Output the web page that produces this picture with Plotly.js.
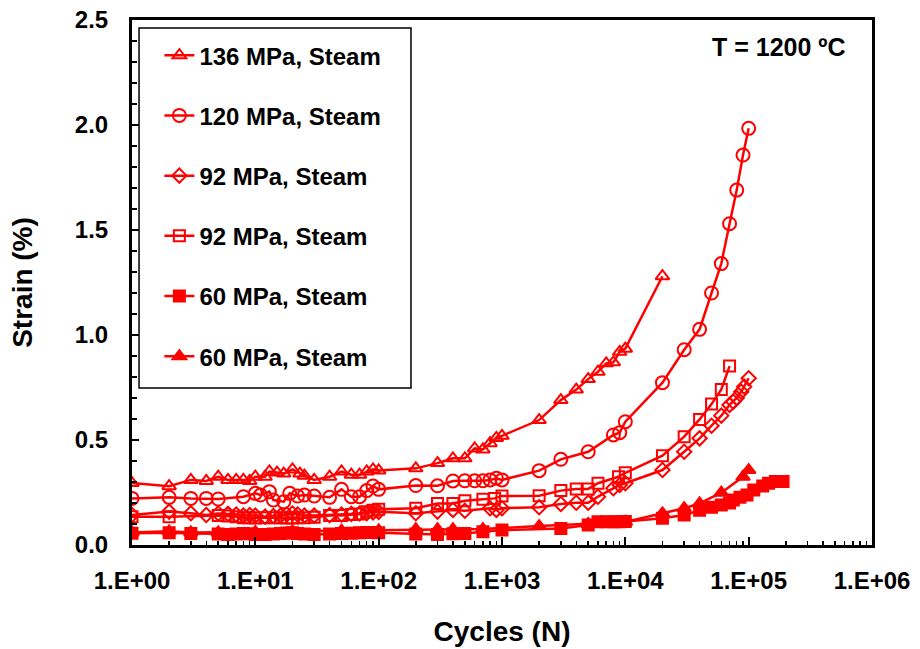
<!DOCTYPE html>
<html>
<head>
<meta charset="utf-8">
<script src="https://cdn.plot.ly/plotly-3.0.1.min.js"></script>
<style>html,body{margin:0;padding:0;background:#fff;}#chart{width:920px;height:649px;}</style>
</head>
<body>
<div id="chart"></div>
<script>
// 136 MPa, Steam (open triangle)
var N136 = [1,2,3,4,5,6,7,8,9,10,12,13,15,17,20,23,25,30,40,50,60,70,80,90,100,200,300,400,500,600,700,800,900,1000,2000,3000,4000,5000,6000,7000,8000,9000,10000,20000];
var S136 = [0.295,0.28,0.31,0.305,0.325,0.31,0.31,0.31,0.305,0.325,0.325,0.35,0.345,0.34,0.36,0.34,0.33,0.31,0.325,0.35,0.335,0.335,0.35,0.36,0.355,0.365,0.39,0.413,0.413,0.46,0.455,0.485,0.51,0.52,0.595,0.69,0.74,0.79,0.825,0.865,0.87,0.92,0.935,1.28];

// 120 MPa, Steam (open circle)
var N120 = [1,2,3,4,5,8,10,11,13,14,17,19,22,25,30,40,50,60,70,80,90,100,200,300,400,500,600,700,800,900,1000,2000,3000,5000,8000,9000,10000,20000,30000,40000,50000,60000,70000,80000,90000,100000];
var S120 = [0.222,0.227,0.222,0.222,0.219,0.23,0.246,0.238,0.254,0.214,0.206,0.246,0.233,0.238,0.233,0.227,0.265,0.23,0.23,0.259,0.281,0.265,0.283,0.282,0.305,0.306,0.306,0.306,0.31,0.318,0.31,0.354,0.408,0.444,0.524,0.535,0.587,0.773,0.93,1.027,1.2,1.34,1.53,1.69,1.857,1.984];

// 92 MPa, Steam (open diamond)
var N92d = [1,2,3,4,5,6,7,8,9,10,12,14,16,18,20,22,25,30,40,50,60,70,80,90,100,200,300,400,500,800,900,1000,2000,3000,4000,5000,6000,8000,9000,10000,20000,30000,40000,50000,60000,70000,75000,80000,87000,92000,100000];
var S92d = [0.143,0.159,0.151,0.143,0.15,0.148,0.145,0.14,0.142,0.14,0.135,0.138,0.14,0.145,0.15,0.145,0.14,0.14,0.142,0.145,0.148,0.15,0.152,0.155,0.158,0.151,0.159,0.167,0.163,0.175,0.167,0.175,0.18,0.195,0.201,0.201,0.23,0.27,0.286,0.294,0.357,0.444,0.508,0.568,0.616,0.667,0.682,0.70,0.73,0.754,0.794];

// 92 MPa, Steam (open square)
var N92s = [1,2,5,6,7,8,9,10,12,14,16,18,20,22,25,30,40,50,60,70,80,90,100,200,300,400,500,700,870,1000,2000,3000,4000,5000,6000,8800,10000,20000,30000,40000,50000,60000,70000];
var S92s = [0.135,0.135,0.14,0.138,0.135,0.13,0.13,0.128,0.13,0.13,0.13,0.128,0.128,0.13,0.13,0.132,0.14,0.14,0.145,0.148,0.158,0.165,0.17,0.175,0.198,0.198,0.211,0.218,0.222,0.233,0.235,0.259,0.267,0.267,0.294,0.325,0.344,0.425,0.516,0.598,0.671,0.741,0.852];

// 60 MPa, Steam (filled square)
var N60s = [1,2,3,5,6,7,8,9,10,12,14,16,18,20,22,25,30,40,50,60,70,80,90,100,200,300,400,500,700,1000,3000,5000,6000,7000,8000,9000,10000,20000,30000,40000,50000,60000,70000,75000,85000,97000,110000,130000,145000,165000,190000];
var S60s = [0.056,0.058,0.055,0.052,0.05,0.052,0.055,0.053,0.05,0.05,0.052,0.055,0.057,0.058,0.055,0.052,0.05,0.052,0.055,0.056,0.058,0.06,0.06,0.058,0.052,0.05,0.053,0.055,0.063,0.071,0.079,0.095,0.111,0.111,0.111,0.111,0.112,0.127,0.143,0.165,0.18,0.19,0.2,0.214,0.227,0.238,0.262,0.281,0.294,0.302,0.302];

// 60 MPa, Steam (filled triangle)
var N60t = [1,2,3,5,10,20,50,100,200,300,400,700,2000,5000,10000,20000,30000,40000,60000,90000,100000];
var S60t = [0.06,0.065,0.06,0.06,0.062,0.065,0.068,0.07,0.075,0.075,0.075,0.076,0.09,0.1,0.11,0.151,0.175,0.198,0.249,0.325,0.357];

var names = ['136 MPa, Steam','120 MPa, Steam','92 MPa, Steam','92 MPa, Steam','60 MPa, Steam','60 MPa, Steam'];
var xTickVals = [1,10,100,1000,10000,100000,1000000];
var xTickText = ['1.E+00','1.E+01','1.E+02','1.E+03','1.E+04','1.E+05','1.E+06'];

var RED = '#ff0000';
var FONT = 'Liberation Sans, Arial, Helvetica, sans-serif';

function tr(x, y, name, sym, size, i) {
  return {
    x: x, y: y, name: name, type: 'scatter', mode: 'lines+markers',
    legendgroup: 'g' + i,
    line: {color: RED, width: 2.5},
    marker: {symbol: sym, size: size, color: RED, line: {color: RED, width: 2}}
  };
}

var data = [
  tr(N136, S136, names[0], 'triangle-up-open', 12, 0),
  tr(N120, S120, names[1], 'circle-open', 13, 1),
  tr(N92d, S92d, names[2], 'diamond-open', 11, 2),
  tr(N92s, S92s, names[3], 'square-open', 11, 3),
  tr(N60s, S60s, names[4], 'square', 11, 4),
  tr(N60t, S60t, names[5], 'triangle-up', 12, 5)
];

var layout = {
  width: 920, height: 649,
  margin: {l: 132, r: 48, t: 20, b: 104},
  paper_bgcolor: '#fff', plot_bgcolor: '#fff',
  font: {family: FONT, color: '#000', size: 24, weight: 'bold'},
  showlegend: true,
  legend: {
    x: 0.037, y: 0.975, xanchor: 'left', yanchor: 'top',
    bgcolor: 'rgba(0,0,0,0)', borderwidth: 0,
    traceorder: 'grouped', tracegroupgap: 26,
    font: {family: FONT, size: 24, color: '#000', weight: 'bold'}
  },
  xaxis: {
    type: 'log', range: [0, 6],
    tickvals: xTickVals, ticktext: xTickText,
    ticks: 'inside', ticklen: 8, tickwidth: 2, tickcolor: '#000',
    minor: {ticks: 'inside', ticklen: 4, tickwidth: 1.5, tickcolor: '#000', dtick: 'D1'},
    showline: true, linecolor: '#000', linewidth: 3, mirror: true,
    showgrid: false, zeroline: false,
    ticklabelstandoff: 12,
    tickfont: {family: FONT, size: 24, color: '#000', weight: 'bold'},
    title: {text: 'Cycles (N)', standoff: 29, font: {family: FONT, size: 28, color: '#000', weight: 'bold'}}
  },
  yaxis: {
    range: [0, 2.5], dtick: 0.5, tickformat: '.1f',
    ticks: 'inside', ticklen: 7, tickwidth: 2, tickcolor: '#000',
    minor: {ticks: 'inside', ticklen: 5, tickwidth: 1.5, tickcolor: '#000', dtick: 0.1},
    showline: true, linecolor: '#000', linewidth: 3, mirror: true,
    showgrid: false, zeroline: false,
    ticklabelstandoff: 16,
    tickfont: {family: FONT, size: 24, color: '#000', weight: 'bold'},
    title: {text: 'Strain (%)', standoff: 35, font: {family: FONT, size: 28, color: '#000', weight: 'bold'}}
  },
  shapes: [{
    type: 'rect', xref: 'paper', yref: 'paper',
    x0: 0.0095, x1: 0.377, y0: 0.299, y1: 0.985,
    line: {color: '#000', width: 1.5}, fillcolor: 'rgba(0,0,0,0)', layer: 'above'
  }],
  annotations: [{
    text: 'T = 1200 ºC', xref: 'paper', yref: 'paper',
    x: 0.968, y: 0.948, xanchor: 'right', yanchor: 'middle', showarrow: false,
    font: {family: FONT, size: 25, color: '#000', weight: 'bold'}
  }]
};

Plotly.newPlot('chart', data, layout, {displayModeBar: false, staticPlot: true});
</script>
</body>
</html>
